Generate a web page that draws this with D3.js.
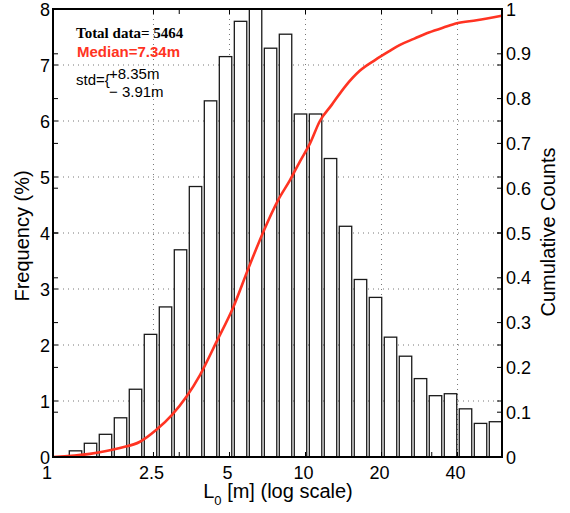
<!DOCTYPE html>
<html><head><meta charset="utf-8">
<script src="https://cdn.jsdelivr.net/npm/d3@7"></script>
<style>
html,body{margin:0;padding:0;background:#fff;}
svg{display:block;font-family:"Liberation Sans",Arial,Helvetica,sans-serif;}
</style></head>
<body>
<svg id="chart" width="570" height="513"></svg>
<script>
// ---- data ----
const binCenters = [1.228,1.408,1.614,1.851,2.122,2.433,2.790,3.199,3.668,4.206,4.823,5.530,6.341,7.271,8.334,9.554,10.96,12.56,14.40,16.51,18.93,21.71,24.89,28.54,32.72,37.52,43.02,49.33,56.56];
const frequency  = [0.11,0.245,0.405,0.70,1.21,2.19,2.68,3.70,4.83,6.36,7.15,7.78,8.30,7.30,7.55,6.125,6.125,5.33,4.12,3.17,2.85,2.14,1.80,1.40,1.095,1.13,0.86,0.60,0.63];
const cdfX = [1.00,1.40,1.84,2.21,2.56,2.96,3.38,3.82,4.45,5.18,5.94,6.81,7.80,8.68,9.51,10.42,11.4,12.7,14.4,16.4,18.85,21.5,23.68,27.0,30.2,35.0,39.7,47.6,59.8];
const cdfY = [0.0,0.007,0.02,0.034,0.06,0.094,0.135,0.183,0.258,0.335,0.421,0.503,0.574,0.618,0.660,0.700,0.750,0.786,0.828,0.862,0.886,0.906,0.920,0.934,0.946,0.958,0.968,0.975,0.985];
const xTickVals = [1,2.5,5,10,20,40];
const xTickLabels = ["1","2.5","5","10","20","40"];
const xMinorTicks = [3.162,31.62];
const yLeftTicks = [0,1,2,3,4,5,6,7,8];
const yRightTicks = [0,0.1,0.2,0.3,0.4,0.5,0.6,0.7,0.8,0.9,1];
const gridX = [2.5,5,10,20,40];
const gridY = [1,2,3,4,5,6,7];
const totalText = "Total data= 5464";
const medianText = "Median=7.34m";
const stdPlus = "+8.35m";
const stdMinus = "\u2212 3.91m";

// ---- layout ----
const L = 53, R = 502, T = 9, B = 457;
const svg = d3.select("#chart");
const x = d3.scaleLog().domain([1,60]).range([L,R]);
const yL = d3.scaleLinear().domain([0,8]).range([B,T]);
const yR = d3.scaleLinear().domain([0,1]).range([B,T]);

svg.append("defs").append("clipPath").attr("id","plotclip")
  .append("rect").attr("x",L).attr("y",T).attr("width",R-L).attr("height",B-T);

const plot = svg.append("g").attr("clip-path","url(#plotclip)");

// grid
plot.selectAll(".gx").data(gridX).enter().append("line")
  .attr("x1",d=>x(d)).attr("x2",d=>x(d)).attr("y1",T).attr("y2",B)
  .attr("stroke","#777").attr("stroke-width",1).attr("stroke-dasharray","1,4");
plot.selectAll(".gy").data(gridY).enter().append("line")
  .attr("x1",L).attr("x2",R).attr("y1",d=>yL(d)).attr("y2",d=>yL(d))
  .attr("stroke","#777").attr("stroke-width",1).attr("stroke-dasharray","1,4");

// bars
const step = x(binCenters[1]) - x(binCenters[0]);
const bw = step*0.83;
plot.selectAll(".bar").data(binCenters).enter().append("rect")
  .attr("x",(d)=>x(d)-bw/2)
  .attr("width",bw)
  .attr("y",(d,i)=>yL(frequency[i]))
  .attr("height",(d,i)=>B-yL(frequency[i]))
  .attr("fill","#fff").attr("stroke","#1a1a1a").attr("stroke-width",1.3);

// cumulative curve
const line = d3.line().x((d,i)=>x(cdfX[i])).y((d,i)=>yR(cdfY[i])).curve(d3.curveMonotoneX);
plot.append("path").datum(cdfX).attr("d",line)
  .attr("fill","none").attr("stroke","#ff3322").attr("stroke-width",2.6);

// ticks (inward)
const tk = svg.append("g").attr("stroke","#000").attr("stroke-width",1);
const tl = 5;
yLeftTicks.forEach(v=>{
  tk.append("line").attr("x1",L).attr("x2",L+tl).attr("y1",yL(v)).attr("y2",yL(v));
  tk.append("line").attr("x1",R).attr("x2",R-tl).attr("y1",yL(v)).attr("y2",yL(v));
});
yRightTicks.forEach(v=>{
  tk.append("line").attr("x1",L).attr("x2",L+tl).attr("y1",yR(v)).attr("y2",yR(v));
  tk.append("line").attr("x1",R).attr("x2",R-tl).attr("y1",yR(v)).attr("y2",yR(v));
});
xTickVals.concat(xMinorTicks).forEach(v=>{
  tk.append("line").attr("x1",x(v)).attr("x2",x(v)).attr("y1",B).attr("y2",B-tl);
  tk.append("line").attr("x1",x(v)).attr("x2",x(v)).attr("y1",T).attr("y2",T+tl);
});

// frame
svg.append("rect").attr("x",L).attr("y",T).attr("width",R-L).attr("height",B-T)
  .attr("fill","none").attr("stroke","#000").attr("stroke-width",2);

// tick labels
const fs = 18;
svg.selectAll(".yl").data(yLeftTicks).enter().append("text")
  .attr("x",L-3).attr("y",d=>yL(d)+6.5).attr("text-anchor","end")
  .attr("font-size",fs).text(d=>d);
svg.selectAll(".yr").data(yRightTicks).enter().append("text")
  .attr("x",R+4).attr("y",d=>yR(d)+6.5).attr("text-anchor","start")
  .attr("font-size",fs).text(d=>d3.format("")(d));
svg.selectAll(".xl").data(xTickVals).enter().append("text")
  .attr("x",(d,i)=>x(d)-(i===0?6:2)).attr("y",479).attr("text-anchor","middle")
  .attr("font-size",fs).text((d,i)=>xTickLabels[i]);

// axis titles
const xt = svg.append("text").attr("x",278).attr("y",498).attr("text-anchor","middle").attr("font-size",20);
xt.append("tspan").text("L");
xt.append("tspan").attr("font-size",13).attr("dy",7).text("0");
xt.append("tspan").attr("dy",-7).text(" [m] (log scale)");

svg.append("text").attr("transform","translate(29,236) rotate(-90)")
  .attr("text-anchor","middle").attr("font-size",20).text("Frequency (%)");
svg.append("text").attr("transform","translate(555,232) rotate(-90)")
  .attr("text-anchor","middle").attr("font-size",20).text("Cumulative Counts");

// annotations
svg.append("text").attr("x",76).attr("y",38).attr("font-family","'Liberation Serif','Times New Roman',serif")
  .attr("font-weight","bold").attr("font-size",15).text(totalText);
svg.append("text").attr("x",77).attr("y",57).attr("font-weight","bold").attr("font-size",15)
  .attr("fill","#ff3322").text(medianText);
svg.append("text").attr("x",76).attr("y",85).attr("font-size",15).text("std={");
svg.append("text").attr("x",109).attr("y",79).attr("font-size",15).text(stdPlus);
svg.append("text").attr("x",109).attr("y",97).attr("font-size",15).text(stdMinus);
</script>
</body></html>
